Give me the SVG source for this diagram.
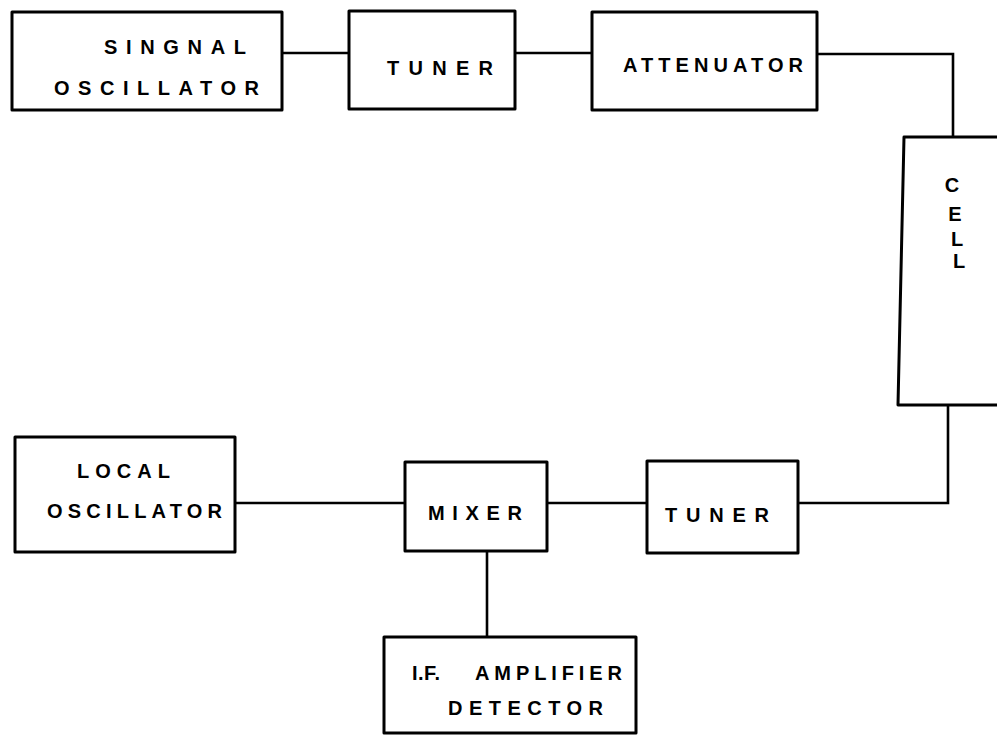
<svg xmlns="http://www.w3.org/2000/svg" width="997" height="742" viewBox="0 0 997 742">
<style>
.box{fill:none;stroke:#000;stroke-width:3;stroke-linejoin:round}
.wire{fill:none;stroke:#000;stroke-width:2.6}
text{font-family:"Liberation Sans","DejaVu Sans",sans-serif;font-weight:bold;font-size:20px;fill:#000}
.c{text-anchor:middle}
</style>
<rect width="997" height="742" fill="#fff"/>
<g id="connectors">
<path class="wire" d="M282 53 H349"/>
<path class="wire" d="M515 53 H592"/>
<path class="wire" d="M817 54 H953 V137"/>
<path class="wire" d="M948 405 V503 H798"/>
<path class="wire" d="M647 503 H547"/>
<path class="wire" d="M405 503 H235"/>
<path class="wire" d="M487 551 V637"/>
</g>
<g id="signal-oscillator">
<rect class="box" x="12" y="12" width="270" height="98"/>
<text x="104" y="54" textLength="142" lengthAdjust="spacing">SINGNAL</text>
<text x="54" y="95" textLength="205" lengthAdjust="spacing">OSCILLATOR</text>
</g>
<g id="tuner-1">
<rect class="box" x="349" y="11" width="166" height="98"/>
<text x="387" y="75" textLength="106" lengthAdjust="spacing">TUNER</text>
</g>
<g id="attenuator">
<rect class="box" x="592" y="12" width="225" height="98"/>
<text x="623" y="72" textLength="180" lengthAdjust="spacing">ATTENUATOR</text>
</g>
<g id="cell">
<path class="box" d="M1010 137 H904 L898 405 H1010"/>
<text class="c" x="952" y="192">C</text>
<text class="c" x="955" y="221">E</text>
<text class="c" x="957" y="246">L</text>
<text class="c" x="959" y="268">L</text>
</g>
<g id="local-oscillator">
<rect class="box" x="15" y="437" width="220" height="115"/>
<text x="77" y="478" textLength="93" lengthAdjust="spacing">LOCAL</text>
<text x="47" y="518" textLength="175" lengthAdjust="spacing">OSCILLATOR</text>
</g>
<g id="mixer">
<rect class="box" x="405" y="462" width="142" height="89"/>
<text x="428" y="520" textLength="94" lengthAdjust="spacing">MIXER</text>
</g>
<g id="tuner-2">
<rect class="box" x="647" y="461" width="151" height="92"/>
<text x="665" y="522" textLength="104" lengthAdjust="spacing">TUNER</text>
</g>
<g id="if-amplifier-detector">
<rect class="box" x="384" y="637" width="252" height="96"/>
<text x="412" y="680" textLength="28" lengthAdjust="spacing">I.F.</text>
<text x="475" y="680" textLength="147" lengthAdjust="spacing">AMPLIFIER</text>
<text x="448" y="715" textLength="155" lengthAdjust="spacing">DETECTOR</text>
</g>
</svg>
